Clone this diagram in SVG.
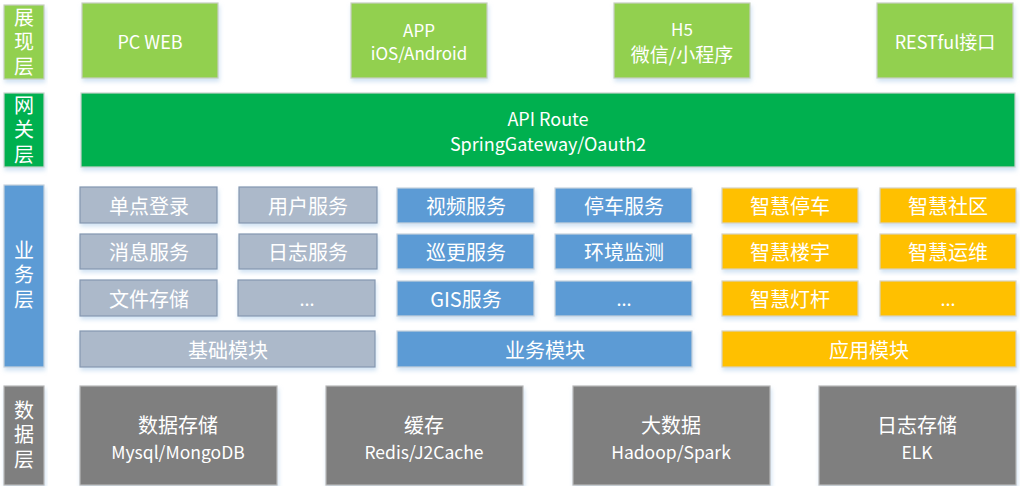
<svg xmlns="http://www.w3.org/2000/svg" width="1020" height="486" viewBox="0 0 1020 486">
<defs>
<filter id="sh" x="-10%" y="-10%" width="120%" height="130%">
<feDropShadow dx="1" dy="3" stdDeviation="2" flood-color="#BDD7EE" flood-opacity="0.7"/>
</filter>
</defs>
<style>
rect{filter:url(#sh);stroke-width:1.2}
.lg{fill:#92D050;stroke:#C8CFC0}
.gr{fill:#00B050;stroke:#C8D4CC}
.bl{fill:#5B9BD5;stroke:#C9D3DD}
.bg{fill:#ACB9CA;stroke:#8497B0}
.or{fill:#FFC000;stroke:#D8D2C0}
.dk{fill:#7F7F7F;stroke:#B8B8B8}
text{fill:#FFFFFF;font-family:"Noto Sans CJK SC","Open Sans",sans-serif;text-anchor:middle;dominant-baseline:central}
.lab{font-size:20px;writing-mode:vertical-rl;text-anchor:start;letter-spacing:4.5px}
.t17{font-size:17px}
.t18{font-size:18px}
.t19{font-size:19px}
.t20{font-size:20px}
.d20{font-size:20px}
.d17{font-size:17.5px}
</style>
<g id="layer-present"><rect class="lg" x="4" y="5" width="40" height="74"/><text class="lab" x="24" y="7">展现层</text></g>
<g id="layer-gateway"><rect class="gr" x="4" y="93" width="40" height="74"/><text class="lab" x="24" y="95">网关层</text></g>
<g id="layer-business"><rect class="bl" x="4" y="185" width="40" height="182"/><text class="lab" x="24" y="240">业务层</text></g>
<g id="layer-data"><rect class="dk" x="4" y="386" width="40" height="99"/><text class="lab" x="24" y="400">数据层</text></g>

<g id="pcweb"><rect class="lg" x="82" y="3" width="136" height="75"/><text class="t18" x="150" y="41">PC WEB</text></g>
<g id="app"><rect class="lg" x="351" y="3" width="136" height="75"/><text class="t17" x="419" y="29">APP</text><text class="t17" x="419" y="52">iOS/Android</text></g>
<g id="h5"><rect class="lg" x="614" y="3" width="136" height="75"/><text class="t17" x="682" y="28">H5</text><text class="t19" x="682" y="53">微信/小程序</text></g>
<g id="restful"><rect class="lg" x="877" y="3" width="136" height="75"/><text class="t18" x="945" y="41">RESTful接口</text></g>

<g id="gateway"><rect class="gr" x="81" y="93" width="934" height="74"/><text class="t18" x="548" y="118">API Route</text><text class="t18" x="548" y="143">SpringGateway/Oauth2</text></g>

<g id="sso"><rect class="bg" x="80" y="187" width="137" height="36"/><text class="t20" x="149" y="205">单点登录</text></g>
<g id="user"><rect class="bg" x="239" y="187" width="138" height="36"/><text class="t20" x="308" y="205">用户服务</text></g>
<g id="msg"><rect class="bg" x="80" y="234" width="137" height="35"/><text class="t20" x="149" y="251">消息服务</text></g>
<g id="log"><rect class="bg" x="239" y="234" width="138" height="35"/><text class="t20" x="308" y="251">日志服务</text></g>
<g id="file"><rect class="bg" x="80" y="280" width="137" height="36"/><text class="t20" x="149" y="298">文件存储</text></g>
<g id="more1"><rect class="bg" x="238" y="280" width="137" height="36"/><text class="t18" x="307" y="298">...</text></g>
<g id="base"><rect class="bg" x="80" y="331" width="295" height="36"/><text class="t20" x="228" y="349">基础模块</text></g>

<g id="video"><rect class="bl" x="397" y="188" width="137" height="35"/><text class="t20" x="466" y="205">视频服务</text></g>
<g id="parking"><rect class="bl" x="555" y="188" width="137" height="35"/><text class="t20" x="624" y="205">停车服务</text></g>
<g id="patrol"><rect class="bl" x="397" y="234" width="137" height="35"/><text class="t20" x="466" y="251">巡更服务</text></g>
<g id="env"><rect class="bl" x="555" y="234" width="137" height="35"/><text class="t20" x="624" y="251">环境监测</text></g>
<g id="gis"><rect class="bl" x="397" y="281" width="137" height="35"/><text class="t20" x="466" y="298">GIS服务</text></g>
<g id="more2"><rect class="bl" x="555" y="281" width="137" height="35"/><text class="t18" x="624" y="298">...</text></g>
<g id="biz"><rect class="bl" x="397" y="331" width="295" height="36"/><text class="t20" x="545" y="349">业务模块</text></g>

<g id="spark"><rect class="or" x="722" y="188" width="136" height="35"/><text class="t20" x="790" y="205">智慧停车</text></g>
<g id="scomm"><rect class="or" x="880" y="188" width="136" height="35"/><text class="t20" x="948" y="205">智慧社区</text></g>
<g id="sbuild"><rect class="or" x="722" y="234" width="136" height="35"/><text class="t20" x="790" y="251">智慧楼宇</text></g>
<g id="sops"><rect class="or" x="880" y="234" width="136" height="35"/><text class="t20" x="948" y="251">智慧运维</text></g>
<g id="slamp"><rect class="or" x="722" y="281" width="136" height="35"/><text class="t20" x="790" y="298">智慧灯杆</text></g>
<g id="more3"><rect class="or" x="880" y="281" width="136" height="35"/><text class="t18" x="948" y="298">...</text></g>
<g id="appmod"><rect class="or" x="722" y="331" width="294" height="36"/><text class="t20" x="869" y="349">应用模块</text></g>

<g id="db"><rect class="dk" x="80" y="386" width="197" height="99"/><text class="d20" x="178" y="424">数据存储</text><text class="d17" x="178" y="451">Mysql/MongoDB</text></g>
<g id="cache"><rect class="dk" x="326" y="386" width="197" height="99"/><text class="d20" x="424" y="424">缓存</text><text class="d17" x="424" y="451">Redis/J2Cache</text></g>
<g id="bigdata"><rect class="dk" x="573" y="386" width="197" height="99"/><text class="d20" x="671" y="424">大数据</text><text class="d17" x="671" y="451">Hadoop/Spark</text></g>
<g id="logstore"><rect class="dk" x="819" y="386" width="197" height="99"/><text class="d20" x="917" y="424">日志存储</text><text class="d17" x="917" y="451">ELK</text></g>
<g id="connectors"></g>
</svg>
